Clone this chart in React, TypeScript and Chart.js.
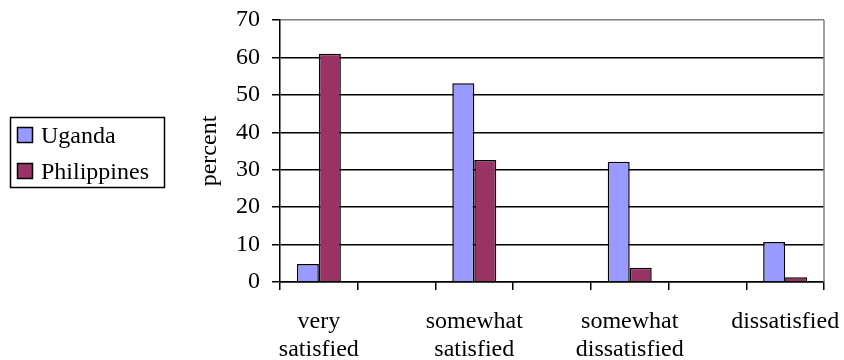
import React, { useEffect, useRef } from "react";
import { Chart, registerables } from "chart.js";

Chart.register(...registerables);

// Satisfaction categories, with spacer slots between the groups
const categories: (string | string[])[] = [
  ["very", "satisfied"],
  "",
  ["somewhat", "satisfied"],
  "",
  ["somewhat", "dissatisfied"],
  "",
  "dissatisfied",
];

const ugandaValues: (number | null)[] = [4.8, null, 53.1, null, 32.1, null, 10.7];
const philippinesValues: (number | null)[] = [61.0, null, 32.6, null, 3.8, null, 1.3];

const yTicks = [0, 10, 20, 30, 40, 50, 60, 70];

const seriesNames = ["Uganda", "Philippines"];
const seriesColors = ["#9999FF", "#993366"];

const FONT = '"Liberation Serif", "Times New Roman", serif';

// Boxed legend on the left and the grey frame on the right of the plot
const framePlugin = {
  id: "frameAndLegend",
  afterDraw(chart: any) {
    const { ctx, chartArea } = chart;
    ctx.save();
    ctx.strokeStyle = "#808080";
    ctx.lineWidth = 1.5;
    ctx.beginPath();
    ctx.moveTo(chartArea.right, chartArea.top);
    ctx.lineTo(chartArea.right, chartArea.bottom);
    ctx.stroke();

    // legend box
    ctx.strokeStyle = "#000";
    ctx.lineWidth = 1.5;
    ctx.strokeRect(10.5, 117.5, 154, 70);
    ctx.font = `24px ${FONT}`;
    ctx.textBaseline = "alphabetic";
    ctx.textAlign = "left";
    const rows = [127.5, 163.5];
    chart.data.datasets.forEach((ds: any, i: number) => {
      const y = rows[i];
      ctx.fillStyle = ds.backgroundColor;
      ctx.fillRect(17.5, y, 15, 15);
      ctx.strokeStyle = "#000";
      ctx.lineWidth = 1.5;
      ctx.strokeRect(17.5, y, 15, 15);
      ctx.fillStyle = "#000";
      ctx.fillText(ds.label, 41, y + 15.5);
    });
    ctx.restore();
  },
};

export default function App() {
  const canvasRef = useRef<HTMLCanvasElement>(null);

  useEffect(() => {
    const canvas = canvasRef.current;
    if (!canvas) return;
    const chart = new Chart(canvas, {
      type: "bar",
      data: {
        labels: categories,
        datasets: [
          {
            label: seriesNames[0],
            data: ugandaValues,
            backgroundColor: seriesColors[0],
            borderColor: "#000",
            borderWidth: 1.5,
          },
          {
            label: seriesNames[1],
            data: philippinesValues,
            backgroundColor: seriesColors[1],
            borderColor: "#000",
            borderWidth: 1.5,
          },
        ],
      },
      options: {
        responsive: false,
        animation: false,
        events: [],
        datasets: {
          bar: { categoryPercentage: 0.566, barPercentage: 1 },
        },
        layout: { padding: { left: 195, right: 20, top: 20, bottom: 0 } },
        plugins: {
          legend: { display: false },
          tooltip: { enabled: false },
        },
        scales: {
          x: {
            grid: {
              display: true,
              drawOnChartArea: false,
              drawTicks: true,
              tickLength: 8,
              color: "#000",
              lineWidth: 1.5,
              offset: true,
            },
            border: { display: true, color: "#000", width: 1.5 },
            ticks: {
              color: "#000",
              font: { family: FONT, size: 24, lineHeight: "28px" },
              padding: 18,
              maxRotation: 0,
              autoSkip: false,
            },
            afterFit(scale: any) {
              scale.height = 78;
              scale.paddingLeft = 0;
              scale.paddingRight = 0;
            },
          },
          y: {
            min: 0,
            max: 70,
            afterBuildTicks(scale: any) {
              scale.ticks = yTicks.map((v) => ({ value: v }));
            },
            grid: {
              color: (ctx: any) => (ctx.tick && ctx.tick.value === 70 ? "#808080" : "#000"),
              tickColor: "#000",
              lineWidth: 1.5,
              tickLength: 8,
              drawTicks: true,
            },
            border: { display: true, color: "#000", width: 1.5 },
            ticks: {
              color: "#000",
              font: { family: FONT, size: 24 },
              padding: 12,
            },
            title: {
              display: true,
              text: "percent",
              color: "#000",
              font: { family: FONT, size: 24, lineHeight: 1.2 },
              padding: { top: 0, bottom: 0 },
            },
            afterFit(scale: any) {
              scale.width = 85;
              scale.paddingTop = 0;
              scale.paddingBottom = 0;
            },
          },
        },
      },
      plugins: [framePlugin],
    });
    return () => chart.destroy();
  }, []);

  return (
    <div style={{ position: "fixed", left: 0, top: 0, width: 844, height: 360, background: "#fff" }}>
      <canvas ref={canvasRef} width={844} height={360} style={{ display: "block" }} />
    </div>
  );
}
